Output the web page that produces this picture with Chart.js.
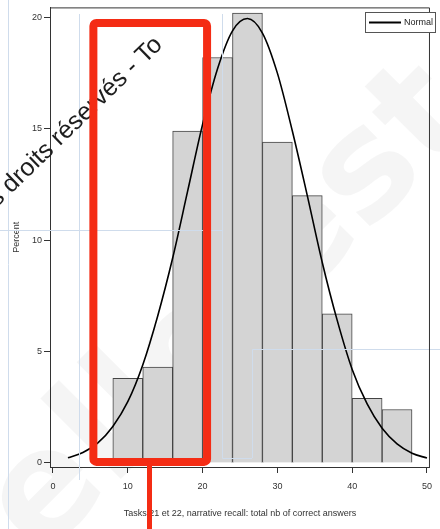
<!DOCTYPE html>
<html>
<head>
<meta charset="utf-8">
<script src="https://cdn.jsdelivr.net/npm/chart.js@4.4.1/dist/chart.umd.min.js"></script>
<style>
  html, body { margin: 0; padding: 0; background: #fff; }
  #wrap { width: 440px; height: 529px; position: relative; }
</style>
</head>
<body>
<div id="wrap"><canvas id="histo" width="440" height="529"></canvas></div>
<script>
const binCenters = [10, 14, 18, 22, 26, 30, 34, 38, 42, 46];
const percents = [3.8, 4.3, 14.9, 18.2, 20.2, 14.4, 12.0, 6.7, 2.9, 2.4];

// Courbe normale
const curveX = [2, 4, 6, 8, 10, 12, 14, 16, 18, 20, 22, 24, 26, 28, 30, 32, 34, 36, 38, 40, 42, 44, 46, 48, 50];
const curveY = [0.23, 0.47, 0.9, 1.64, 2.75, 4.4, 6.6, 9.2, 12.2, 15.2, 17.7, 19.4, 19.95, 19.3, 17.5, 14.9, 12.0, 9.0, 6.4, 4.2, 2.65, 1.56, 0.86, 0.44, 0.22];

const xTicks = [0, 10, 20, 30, 40, 50];
const yTicks = [0, 5, 10, 15, 20];

const axisFont = { family: "'Liberation Sans', Arial, sans-serif", size: 9 };

// Cadre, légende, encadré rouge et filigranes
const decorPlugin = {
  id: "decor",
  beforeDatasetsDraw(chart) {
    const ctx = chart.ctx;
    ctx.save();
    ctx.fillStyle = "rgba(0,0,0,0.04)";
    ctx.font = "bold 150px 'DejaVu Sans', sans-serif";
    ctx.translate(40, 560);
    ctx.rotate(-Math.PI / 4);
    ctx.fillText("elle est", 0, 0);
    ctx.restore();
  },
  afterDatasetsDraw(chart) {
    const ctx = chart.ctx;
    // lignes guides bleu pâle
    ctx.save();
    ctx.strokeStyle = "#cfdcec";
    ctx.lineWidth = 1;
    ctx.beginPath();
    ctx.moveTo(8.5, 0); ctx.lineTo(8.5, 529);
    ctx.moveTo(0, 230.5); ctx.lineTo(222, 230.5);
    ctx.moveTo(79.5, 14); ctx.lineTo(79.5, 480);
    ctx.moveTo(222.5, 14); ctx.lineTo(222.5, 458.5); ctx.lineTo(252, 458.5);
    ctx.moveTo(252.5, 458); ctx.lineTo(252.5, 349.5); ctx.lineTo(440, 349.5);
    ctx.stroke();
    ctx.restore();
  },
  afterDraw(chart) {
    const ctx = chart.ctx;
    const { left, right, top, bottom } = chart.chartArea;
    const xs = chart.scales.x, ys = chart.scales.y;

    // cadre haut et droit
    ctx.save();
    ctx.strokeStyle = "#333";
    ctx.lineWidth = 1;
    ctx.beginPath();
    ctx.moveTo(left, top + 0.5);
    ctx.lineTo(right - 0.5, top + 0.5);
    ctx.lineTo(right - 0.5, bottom);
    ctx.stroke();

    // légende
    ctx.fillStyle = "#fff";
    ctx.fillRect(365, 12, 70, 20);
    ctx.strokeStyle = "#555";
    ctx.strokeRect(365.5, 12.5, 70, 20);
    ctx.strokeStyle = "#000";
    ctx.lineWidth = 2;
    ctx.beginPath();
    ctx.moveTo(369, 22.5);
    ctx.lineTo(401, 22.5);
    ctx.stroke();
    ctx.fillStyle = "#222";
    ctx.font = "9px " + axisFont.family;
    ctx.textBaseline = "middle";
    ctx.fillText("Normal", 404, 22.5);

    // texte de filigrane
    ctx.save();
    ctx.translate(11, 194);
    ctx.rotate(-0.77);
    ctx.font = "25px 'Liberation Sans', Arial, sans-serif";
    ctx.fillStyle = "#1e1e1e";
    ctx.textBaseline = "alphabetic";
    const lead = ctx.measureText("s ").width;
    ctx.fillText("s droits réservés - To", -lead, 0);
    ctx.restore();

    // encadré rouge
    const bx0 = xs.getPixelForValue(5.4), bx1 = xs.getPixelForValue(20.6);
    const by0 = ys.getPixelForValue(19.75), by1 = ys.getPixelForValue(0.05);
    ctx.strokeStyle = "#f42c14";
    ctx.lineWidth = 8;
    ctx.lineJoin = "round";
    ctx.beginPath();
    ctx.roundRect(bx0, by0, bx1 - bx0, by1 - by0, 3);
    ctx.stroke();
    const stemX = xs.getPixelForValue(12.9);
    ctx.lineWidth = 5;
    ctx.beginPath();
    ctx.moveTo(stemX, by1);
    ctx.lineTo(stemX, 529);
    ctx.stroke();
    ctx.restore();
  }
};

new Chart(document.getElementById("histo"), {
  type: "bar",
  data: {
    datasets: [
      {
        type: "line",
        label: "Normal",
        data: curveX.map((x, i) => ({ x: x, y: curveY[i] })),
        borderColor: "#000",
        borderWidth: 1.6,
        pointRadius: 0,
        cubicInterpolationMode: "monotone",
        fill: false,
        order: 0
      },
      {
        label: "Percent",
        data: binCenters.map((x, i) => ({ x: x, y: percents[i] })),
        backgroundColor: "#d4d4d4",
        borderColor: "#444",
        borderWidth: 1,
        barPercentage: 1,
        categoryPercentage: 1,
        order: 1
      }
    ]
  },
  options: {
    responsive: false,
    animation: false,
    layout: { padding: { top: 6, right: 2, left: 0, bottom: 0 } },
    plugins: {
      legend: { display: false },
      tooltip: { enabled: false }
    },
    scales: {
      x: {
        type: "linear",
        offset: false,
        min: -0.4,
        max: 50.4,
        afterBuildTicks: (s) => { s.ticks = xTicks.map(v => ({ value: v })); },
        afterFit: (s) => { s.height = 62; },
        ticks: { font: axisFont, color: "#333", padding: 8, maxRotation: 0 },
        grid: { display: true, drawOnChartArea: false, drawTicks: true, tickLength: 6, color: "#333", offset: false },
        border: { display: true, color: "#333", width: 1 },
        title: {
          display: true,
          text: "Tasks 21 et 22, narrative recall: total nb of correct answers",
          font: axisFont,
          color: "#333",
          padding: { top: 0, bottom: 10 }
        }
      },
      y: {
        min: -0.18,
        max: 20.45,
        afterBuildTicks: (s) => { s.ticks = yTicks.map(v => ({ value: v })); },
        afterFit: (s) => { s.width = 50; },
        ticks: { font: axisFont, color: "#333", padding: 2 },
        grid: { display: true, drawOnChartArea: false, drawTicks: true, tickLength: 6, color: "#333" },
        border: { display: true, color: "#333", width: 1 },
        title: {
          display: true,
          text: "Percent",
          font: axisFont,
          color: "#333",
          padding: { top: 11, bottom: 0 }
        }
      }
    }
  },
  plugins: [decorPlugin]
});
</script>
</body>
</html>
